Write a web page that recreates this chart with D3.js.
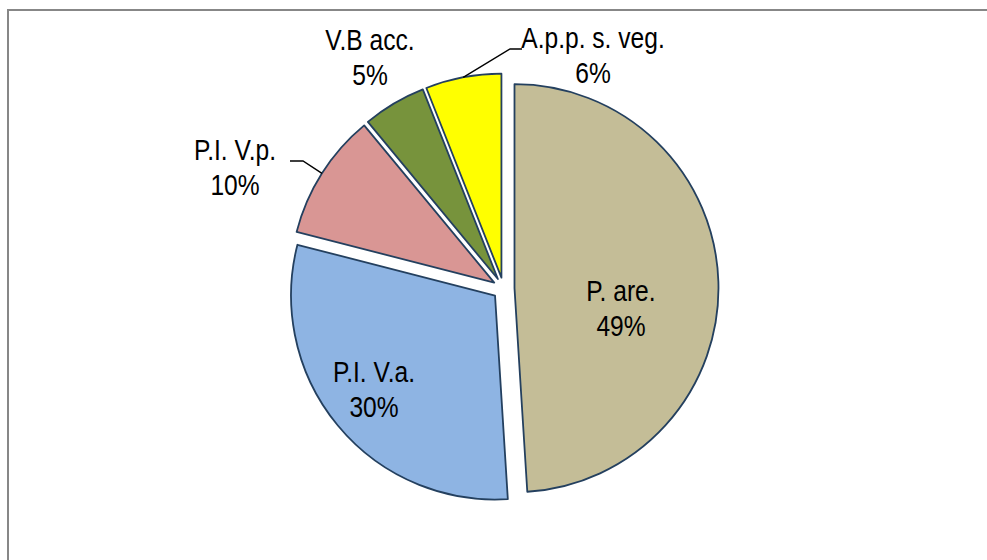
<!DOCTYPE html>
<html>
<head>
<meta charset="utf-8">
<script src="https://cdn.jsdelivr.net/npm/d3@7"></script>
<style>
  body { margin: 0; background: #fff; }
  svg { display: block; }
  text { font-family: "Liberation Sans", Arial, sans-serif; font-size: 30px; fill: #000; }
</style>
</head>
<body>
<svg width="987" height="560"></svg>
<script>
let categories = ["P. are.", "P.I. V.a.", "P.I. V.p.", "V.B acc.", "A.p.p. s. veg."],
    values = [49, 30, 10, 5, 6],
    colors = ["#C4BD97", "#8EB4E3", "#D99694", "#77933C", "#FFFF00"];

// where excel dropped each label (centre x, baseline of the name line), and whether it has a leader
let labelPos = [
  {x: 621, y: 301, leader: false},
  {x: 374, y: 382, leader: false},
  {x: 235, y: 160, leader: true, knee: [303, 161], end: [290, 161]},
  {x: 370, y: 50, leader: false},
  {x: 593, y: 48, leader: true, knee: [510, 49], end: [522, 49]}
];

let svg = d3.select("svg"),
    cx = 503.5, cy = 288.5,
    radius = 204,
    explode = 11,
    narrow = 0.82; // no Arial Narrow here, so squeeze Liberation Sans

// outer frame, cut off at right and bottom like the original
svg.append("rect")
    .attr("x", 8).attr("y", 10)
    .attr("width", 1000).attr("height", 600)
    .attr("fill", "none")
    .attr("stroke", "#878787")
    .attr("stroke-width", 2);

let data = categories.map(function(c, i) { return {name: c, value: values[i], color: colors[i]}; });

let pie = d3.pie()
    .sort(null)
    .value(function(d) { return d.value; });

let arc = d3.arc()
    .innerRadius(0)
    .outerRadius(radius);

let arcs = pie(data);

let g = svg.append("g").attr("transform", "translate(" + cx + "," + cy + ")");

function offset(d) {
  let a = (d.startAngle + d.endAngle) / 2;
  return [explode * Math.sin(a), -explode * Math.cos(a)];
}

g.selectAll("path.slice")
  .data(arcs)
  .enter().append("path")
    .attr("class", "slice")
    .attr("transform", function(d) { let o = offset(d); return "translate(" + o[0] + "," + o[1] + ")"; })
    .attr("d", arc)
    .attr("fill", function(d) { return d.data.color; })
    .attr("stroke", "#24405F")
    .attr("stroke-width", 1.8)
    .attr("stroke-linejoin", "round");

// leader lines from the middle of the outer edge
arcs.forEach(function(d, i) {
  let lp = labelPos[i];
  if (!lp.leader) return;
  let a = (d.startAngle + d.endAngle) / 2,
      o = offset(d),
      sx = cx + o[0] + radius * Math.sin(a),
      sy = cy + o[1] - radius * Math.cos(a);
  svg.append("polyline")
      .attr("points", [[sx, sy], lp.knee, lp.end].map(function(p) { return p.join(","); }).join(" "))
      .attr("fill", "none")
      .attr("stroke", "#000")
      .attr("stroke-width", 1.4);
});

let labels = svg.selectAll("text.lbl")
  .data(arcs)
  .enter().append("text")
    .attr("class", "lbl")
    .attr("text-anchor", "middle")
    .attr("transform", function(d, i) { return "translate(" + labelPos[i].x + "," + labelPos[i].y + ") scale(" + narrow + ",1)"; });

labels.append("tspan")
    .attr("x", 0)
    .attr("y", 0)
    .text(function(d) { return d.data.name; });

labels.append("tspan")
    .attr("x", 0)
    .attr("y", 35)
    .text(function(d) { return d.data.value + "%"; });
</script>
</body>
</html>
